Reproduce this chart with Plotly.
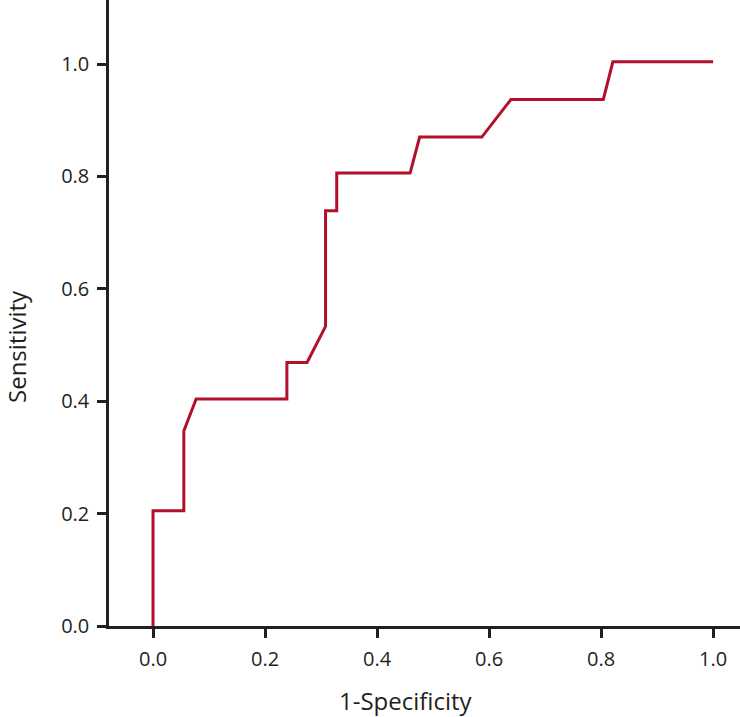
import plotly.graph_objects as go

# ROC curve data
fpr = [0.0, 0.0, 0.055, 0.055, 0.077, 0.239, 0.239, 0.275, 0.308, 0.308,
       0.328, 0.328, 0.459, 0.476, 0.587, 0.639, 0.804, 0.821, 1.0]
tpr = [0.0, 0.205, 0.205, 0.347, 0.404, 0.404, 0.469, 0.469, 0.533, 0.739,
       0.739, 0.806, 0.806, 0.870, 0.870, 0.937, 0.937, 1.004, 1.004]

x_ticks = [0.0, 0.2, 0.4, 0.6, 0.8, 1.0]
y_ticks = [0.0, 0.2, 0.4, 0.6, 0.8, 1.0]
x_title = "1-Specificity"
y_title = "Sensitivity"

INK = "#231f20"
RED = "#b3102c"
FONT = "Open Sans"

fig = go.Figure()
fig.add_trace(go.Scatter(x=fpr, y=tpr, mode="lines",
                         line=dict(color=RED, width=3), showlegend=False,
                         hoverinfo="skip"))

axis_common = dict(showgrid=False, zeroline=False, showline=True,
                   linecolor=INK, linewidth=2.5, ticks="outside",
                   ticklen=9, tickwidth=2.5, tickcolor=INK,
                   tickfont=dict(family=FONT, size=20, color=INK))

fig.update_xaxes(range=[-0.0786, 1.048], tickvals=x_ticks,
                 ticktext=[f"{v:.1f}" for v in x_ticks], ticklabelstandoff=4,
                 **axis_common)
fig.update_yaxes(range=[0, 1.114], tickvals=y_ticks,
                 ticktext=[f"{v:.1f}" for v in y_ticks], ticklabelstandoff=4,
                 **axis_common)

fig.add_annotation(text=x_title, xref="paper", yref="paper",
                   x=(406 - 109) / 631, y=-(700 - 626) / 626,
                   xanchor="center", yanchor="middle", showarrow=False,
                   font=dict(family=FONT, size=24, color=INK))
fig.add_annotation(text=y_title, xref="paper", yref="paper",
                   x=-(109 - 17) / 631, y=(626 - 347) / 626,
                   xanchor="center", yanchor="middle", showarrow=False,
                   textangle=-90,
                   font=dict(family=FONT, size=24, color=INK))

fig.update_layout(width=740, height=717,
                  margin=dict(l=109, r=0, t=0, b=91),
                  paper_bgcolor="white", plot_bgcolor="white")

fig.write_html("out.html", config={"displayModeBar": False},
               post_script="document.body.style.margin='0';"
                           "document.documentElement.style.overflow='hidden';")
